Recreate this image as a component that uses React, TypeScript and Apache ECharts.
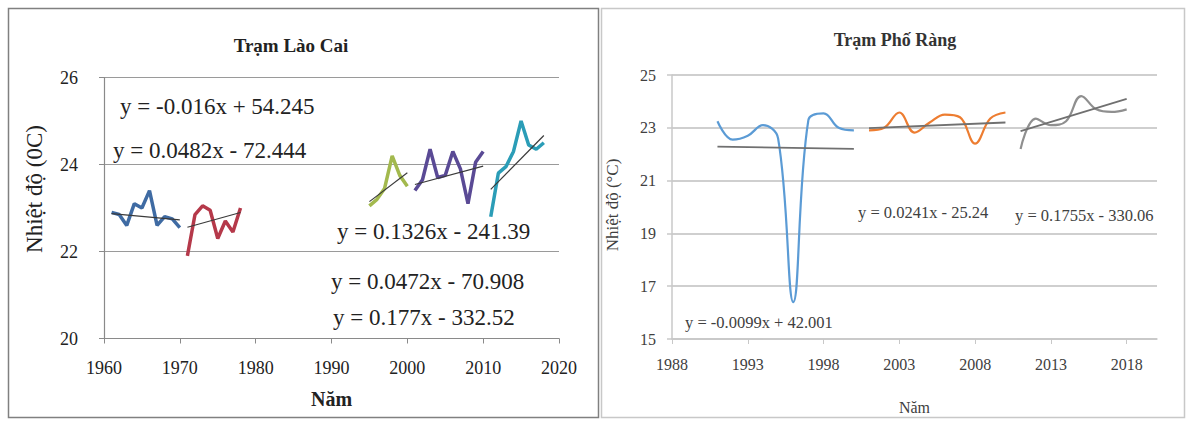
import React, { useEffect, useRef } from "react";
import * as echarts from "echarts";

// ---- Trạm Lào Cai: annual mean temperature by period ----
const lcYears1 = [1961, 1962, 1963, 1964, 1965, 1966, 1967, 1968, 1969, 1970];
const lcTemps1 = [22.9, 22.85, 22.6, 23.1, 23.0, 23.4, 22.6, 22.8, 22.75, 22.55];
const lcYears2 = [1971, 1972, 1973, 1974, 1975, 1976, 1977, 1978];
const lcTemps2 = [21.9, 22.85, 23.05, 22.95, 22.3, 22.7, 22.45, 23.0];
const lcYears3 = [1995, 1996, 1997, 1998, 1999, 2000];
const lcTemps3 = [23.05, 23.2, 23.45, 24.2, 23.75, 23.5];
const lcYears4 = [2001, 2002, 2003, 2004, 2005, 2006, 2007, 2008, 2009, 2010];
const lcTemps4 = [23.4, 23.65, 24.35, 23.7, 23.75, 24.3, 23.9, 23.1, 24.05, 24.3];
const lcYears5 = [2011, 2012, 2013, 2014, 2015, 2016, 2017, 2018];
const lcTemps5 = [22.8, 23.8, 23.95, 24.3, 25.0, 24.45, 24.35, 24.5];

// linear trend coefficients [slope, intercept] per period
const lcSlopes = [-0.016, 0.0482, 0.1326, 0.0472, 0.177];
const lcIntercepts = [54.245, -72.444, -241.39, -70.908, -332.52];
const lcEquations = [
  "y = -0.016x + 54.245",
  "y = 0.0482x - 72.444",
  "y = 0.1326x - 241.39",
  "y = 0.0472x - 70.908",
  "y = 0.177x - 332.52",
];

// ---- Trạm Phố Ràng ----
const prYears1 = [1991, 1992, 1993, 1994, 1995, 1996, 1997, 1998, 1999, 2000];
const prTemps1 = [23.25, 22.55, 22.7, 23.1, 22.6, 16.4, 23.3, 23.55, 23.0, 22.9];
const prYears2 = [2001, 2002, 2003, 2004, 2005, 2006, 2007, 2008, 2009, 2010];
const prTemps2 = [22.9, 23.0, 23.58, 22.82, 23.2, 23.5, 23.4, 22.4, 23.35, 23.58];
const prYears3 = [2011, 2012, 2013, 2014, 2015, 2016, 2017, 2018];
const prTemps3 = [22.2, 23.35, 23.1, 23.25, 24.2, 23.7, 23.6, 23.7];

const prSlopes = [-0.0099, 0.0241, 0.1755];
const prIntercepts = [42.001, -25.24, -330.06];
const prEquations = [
  "y = -0.0099x + 42.001",
  "y = 0.0241x - 25.24",
  "y = 0.1755x - 330.06",
];

const lcYTicks = [20, 22, 24, 26];
const prXTicks = [1988, 1993, 1998, 2003, 2008, 2013, 2018];
const prYTicks = [15, 17, 19, 21, 23, 25];

const SERIF = "Liberation Serif";
const SERIF_STACK = "'Liberation Serif', 'Times New Roman', serif";

const zip = (xs: number[], ys: number[]) => xs.map((x, i) => [x, ys[i]]);
const trend = (k: number, b: number, xs: number[]) => {
  const x0 = xs[0];
  const x1 = xs[xs.length - 1];
  return [
    [x0, k * x0 + b],
    [x1, k * x1 + b],
  ];
};

const tickLabel = (size: number, color: string, margin: number, custom?: number[]) => ({
  margin,
  fontFamily: SERIF_STACK,
  fontSize: size,
  color,
  ...(custom ? { customValues: custom } : {}),
  formatter: (v: number) => String(v),
});

export default function App() {
  const ref = useRef<HTMLDivElement>(null);

  useEffect(() => {
    if (!ref.current) return;
    const chart = echarts.init(ref.current, null, { renderer: "svg" });

    const lcColors = ["#3f6ba3", "#b5394a", "#a3b94e", "#5a4a95", "#2b9db7"];
    const lcSets = [
      [lcYears1, lcTemps1],
      [lcYears2, lcTemps2],
      [lcYears3, lcTemps3],
      [lcYears4, lcTemps4],
      [lcYears5, lcTemps5],
    ];
    const prColors = ["#5b9bd5", "#ed7d31", "#8f8f8f"];
    const prSets = [
      [prYears1, prTemps1],
      [prYears2, prTemps2],
      [prYears3, prTemps3],
    ];

    const series: any[] = [];
    lcSets.forEach(([xs, ys], i) => {
      series.push({
        type: "line",
        xAxisIndex: 0,
        yAxisIndex: 0,
        data: zip(xs, ys),
        showSymbol: false,
        lineStyle: { color: lcColors[i], width: 3.5 },
        z: 3,
      });
      series.push({
        type: "line",
        xAxisIndex: 0,
        yAxisIndex: 0,
        data: trend(lcSlopes[i], lcIntercepts[i], xs),
        showSymbol: false,
        lineStyle: { color: "#3a3a3a", width: 1.2 },
        z: 4,
      });
    });
    prSets.forEach(([xs, ys], i) => {
      series.push({
        type: "line",
        xAxisIndex: 1,
        yAxisIndex: 1,
        data: zip(xs, ys),
        showSymbol: false,
        smooth: 0.4,
        lineStyle: { color: prColors[i], width: 2.2 },
        z: 3,
      });
      series.push({
        type: "line",
        xAxisIndex: 1,
        yAxisIndex: 1,
        data: trend(prSlopes[i], prIntercepts[i], xs),
        showSymbol: false,
        lineStyle: { color: "#707070", width: 1.8 },
        z: 4,
      });
    });

    const eqText = (text: string, x: number, y: number, size: number, fill: string) => ({
      type: "text",
      x,
      y,
      style: {
        text,
        font: `${size}px "${SERIF}"`,
        fill,
        textVerticalAlign: "middle",
      },
      z: 10,
    });

    const lcEqPos = [
      [120, 106],
      [113, 150],
      [337, 231],
      [331, 281],
      [333, 317],
    ];
    const prEqPos = [
      [685, 322],
      [858, 212],
      [1015, 215],
    ];

    chart.setOption({
      animation: false,
      backgroundColor: "#ffffff",
      textStyle: { fontFamily: SERIF_STACK },
      grid: [
        { left: 104, top: 77.5, width: 455, height: 261, containLabel: false },
        { left: 672, top: 75, width: 485, height: 264, containLabel: false },
      ],
      xAxis: [
        {
          type: "value",
          gridIndex: 0,
          min: 1960,
          max: 2020,
          interval: 10,
          name: "Năm",
          nameLocation: "middle",
          nameGap: 50,
          nameTextStyle: { fontFamily: SERIF_STACK, fontSize: 20, fontWeight: "bold", color: "#222" },
          axisLine: { lineStyle: { color: "#8a8a8a", width: 1.2 } },
          axisTick: { show: true, length: 5, lineStyle: { color: "#8a8a8a" } },
          axisLabel: tickLabel(18, "#222", 20),
          splitLine: { show: false },
        },
        {
          type: "value",
          gridIndex: 1,
          min: 1988,
          max: 2020,
          name: "Năm",
          nameLocation: "middle",
          nameGap: 60,
          nameTextStyle: { fontFamily: SERIF_STACK, fontSize: 16, color: "#404040" },
          axisLine: { lineStyle: { color: "#c8c8c8", width: 1.5 } },
          axisTick: {
            show: true,
            length: 5,
            customValues: prXTicks,
            lineStyle: { color: "#c8c8c8" },
          },
          axisLabel: tickLabel(16, "#404040", 17, prXTicks),
          splitLine: { show: false },
        },
      ],
      yAxis: [
        {
          type: "value",
          gridIndex: 0,
          min: 20,
          max: 26,
          interval: 2,
          axisLine: { show: true, lineStyle: { color: "#8a8a8a", width: 1.2 } },
          axisTick: { show: true, length: 5, lineStyle: { color: "#8a8a8a" } },
          axisLabel: tickLabel(18, "#222", 26, lcYTicks),
          splitLine: { show: true, lineStyle: { color: "#9a9a9a", width: 1.2 } },
        },
        {
          type: "value",
          gridIndex: 1,
          min: 15,
          max: 25,
          axisLine: { show: true, lineStyle: { color: "#c8c8c8", width: 1.5 } },
          axisTick: {
            show: true,
            length: 5,
            customValues: prYTicks,
            lineStyle: { color: "#c8c8c8", width: 1.5 },
          },
          axisLabel: tickLabel(16, "#404040", 16, prYTicks),
          splitLine: { show: true, lineStyle: { color: "#cfcfcf", width: 1.8 } },
        },
      ],
      graphic: [
        {
          type: "rect",
          shape: { x: 8.5, y: 8.5, width: 590, height: 409 },
          style: { fill: "none", stroke: "#808080", lineWidth: 1.5 },
          z: 0,
        },
        {
          type: "rect",
          shape: { x: 601.5, y: 8.5, width: 583, height: 409 },
          style: { fill: "none", stroke: "#c8c8c8", lineWidth: 1.5 },
          z: 0,
        },
        {
          type: "text",
          x: 291,
          y: 45,
          style: {
            text: "Trạm Lào Cai",
            font: `bold 19px "${SERIF}"`,
            fill: "#222",
            textAlign: "center",
            textVerticalAlign: "middle",
          },
        },
        {
          type: "text",
          x: 895,
          y: 40,
          style: {
            text: "Trạm Phố Ràng",
            font: `bold 18px "${SERIF}"`,
            fill: "#333",
            textAlign: "center",
            textVerticalAlign: "middle",
          },
        },
        {
          type: "text",
          x: 34,
          y: 189,
          rotation: Math.PI / 2,
          style: {
            text: "Nhiệt độ (0C)",
            font: `23px "${SERIF}"`,
            fill: "#222",
            textAlign: "center",
            textVerticalAlign: "middle",
          },
        },
        {
          type: "text",
          x: 612,
          y: 205,
          rotation: Math.PI / 2,
          style: {
            text: "Nhiệt độ (°C)",
            font: `17px "${SERIF}"`,
            fill: "#404040",
            textAlign: "center",
            textVerticalAlign: "middle",
          },
        },
        ...lcEquations.map((t, i) => eqText(t, lcEqPos[i][0], lcEqPos[i][1], 23, "#222")),
        ...prEquations.map((t, i) => eqText(t, prEqPos[i][0], prEqPos[i][1], 16.5, "#404040")),
      ],
      series,
    });

    return () => chart.dispose();
  }, []);

  return (
    <div
      ref={ref}
      style={{ position: "fixed", left: 0, top: 0, width: 1187, height: 423, background: "#fff" }}
    />
  );
}
